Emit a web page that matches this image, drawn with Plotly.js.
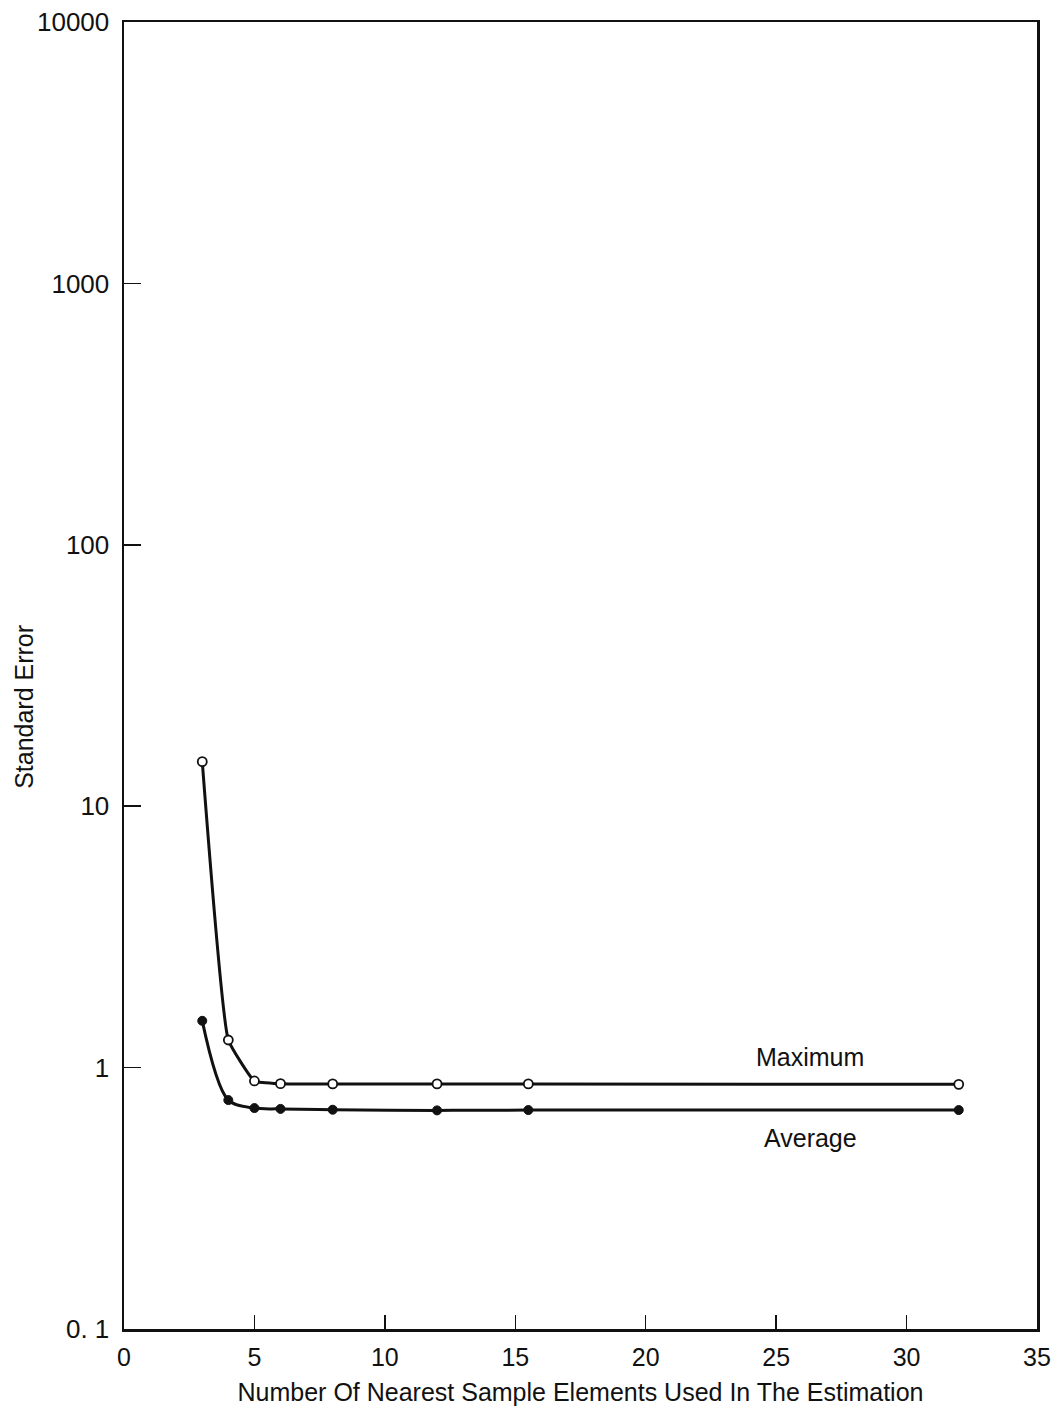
<!DOCTYPE html>
<html>
<head>
<meta charset="utf-8">
<script src="https://cdn.plot.ly/plotly-3.0.1.min.js"></script>
<style>
  html, body { margin: 0; padding: 0; background: #fff; }
  #chart { width: 1055px; height: 1413px; }
</style>
</head>
<body>
<div id="chart"></div>
<script>
// Number of nearest sample elements used in each estimate
const neighbours = [3, 4, 5, 6, 8, 12, 15.5, 32];
// Standard error of the estimate
const maximumError = [14.8, 1.275, 0.889, 0.868, 0.866, 0.866, 0.866, 0.863];
const averageError = [1.51, 0.751, 0.700, 0.695, 0.690, 0.686, 0.688, 0.688];

const xTicks = [0, 5, 10, 15, 20, 25, 30, 35];
const yTickVals = [0.1, 1, 10, 100, 1000, 10000];
const yTickText = ['0. 1', '1', '10', '100', '1000', '10000'];

const font = 'Liberation Sans Narrow, Arial Narrow, sans-serif';

const traces = [
  {
    x: neighbours, y: maximumError, name: 'Maximum',
    mode: 'lines+markers', type: 'scatter',
    line: { color: '#111', width: 3, shape: 'spline', smoothing: 0.35 },
    marker: { symbol: 'circle', size: 9, color: '#fff', line: { color: '#111', width: 1.8 } }
  },
  {
    x: neighbours, y: averageError, name: 'Average',
    mode: 'lines+markers', type: 'scatter',
    line: { color: '#111', width: 3, shape: 'spline', smoothing: 0.9 },
    marker: { symbol: 'circle', size: 9, color: '#111', line: { color: '#111', width: 1 } }
  }
];

const layout = {
  width: 1055, height: 1413,
  margin: { l: 124, r: 18, t: 22, b: 84 },
  paper_bgcolor: '#fff', plot_bgcolor: '#fff',
  showlegend: false,
  font: { family: font, color: '#111', size: 24 },
  xaxis: {
    range: [0, 35], tickvals: xTicks,
    ticks: 'inside', ticklen: 14, tickwidth: 1.5, tickcolor: '#111',
    showline: true, linecolor: '#111', linewidth: 2.5, mirror: true,
    showgrid: false, zeroline: false,
    tickfont: { family: font, size: 25 },
    ticklabelstandoff: 4,
    title: { text: 'Number Of Nearest Sample Elements Used In The Estimation', font: { family: font, size: 25 }, standoff: 14 }
  },
  yaxis: {
    type: 'log', range: [-1, 4],
    tickvals: yTickVals, ticktext: yTickText,
    ticks: 'inside', ticklen: 17, tickwidth: 1.5, tickcolor: '#111',
    showline: true, linecolor: '#111', linewidth: 2.5, mirror: true,
    showgrid: false, zeroline: false,
    tickfont: { family: font, size: 26 },
    ticklabelstandoff: 7
  },
  annotations: [
    { x: 0, y: 0.476, xref: 'paper', yref: 'paper', xanchor: 'center', yanchor: 'middle', xshift: -100,
      textangle: -90, text: 'Standard Error', showarrow: false, font: { family: font, size: 25 } },
    { x: 26.3, y: Math.log10(1.099), xref: 'x', yref: 'y', text: 'Maximum', showarrow: false, font: { family: font, size: 25 } },
    { x: 26.3, y: Math.log10(0.54), xref: 'x', yref: 'y', text: 'Average', showarrow: false, font: { family: font, size: 25 } }
  ]
};

Plotly.newPlot('chart', traces, layout, { displayModeBar: false, staticPlot: true });
</script>
</body>
</html>
